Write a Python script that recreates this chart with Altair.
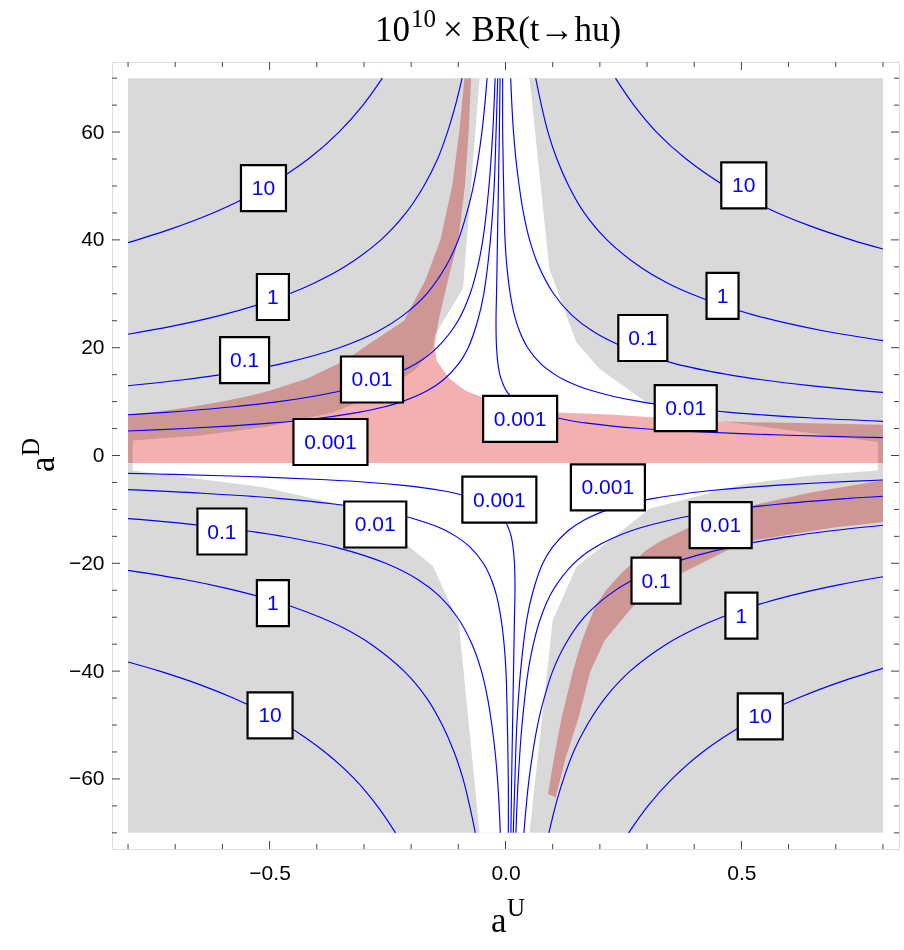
import altair as alt
import pandas as pd

# ---------------------------------------------------------------- layout
W = 787            # plot width  (px)
H = 787            # plot height (px)
X_VIEW = [-0.834, 0.834]
Y_VIEW = [-73.0, 73.0]
X_MIN, X_MAX = -0.8, 0.8
Y_MIN, Y_MAX = -70.0, 70.0

# ---------------------------------------------------------------- contour lines (x = a^U, y = a^D)
UR_0001 = [(0.800, 3.32), (0.708, 3.5), (0.511, 4.0), (0.380, 4.5), (0.288, 5.0), (0.222, 5.5),
           (0.173, 6.0), (0.136, 6.5), (0.107, 7.0), (0.084, 7.5), (0.067, 8.0), (0.041, 9.0),
           (0.023, 10.0), (0.011, 11.0), (0.002, 12.0), (-0.004, 13.0), (-0.012, 15.0),
           (-0.016, 17.0), (-0.019, 20.0), (-0.020, 23.0), (-0.020, 26.0), (-0.019, 30.0),
           (-0.018, 35.0), (-0.017, 40.0), (-0.015, 50.0), (-0.013, 60.0), (-0.0115, 70.0)]
UR_001 = [(0.800, 6.33), (0.642, 7.0), (0.476, 8.0), (0.364, 9.0), (0.285, 10.0), (0.227, 11.0),
          (0.184, 12.0), (0.151, 13.0), (0.125, 14.0), (0.105, 15.0), (0.075, 17.0), (0.047, 20.0),
          (0.030, 23.0), (0.019, 26.0), (0.010, 30.0), (0.003, 35.0), (-0.001, 40.0),
          (-0.004, 50.0), (-0.006, 60.0), (-0.006, 70.0)]
UR_01 = [(0.800, 11.7), (0.758, 12.0), (0.641, 13.0), (0.547, 14.0), (0.472, 15.0), (0.361, 17.0),
         (0.254, 20.0), (0.186, 23.0), (0.141, 26.0), (0.102, 30.0), (0.071, 35.0), (0.051, 40.0),
         (0.038, 45.0), (0.029, 50.0), (0.022, 55.0), (0.017, 60.0), (0.0135, 65.0), (0.011, 70.0)]
UR_1 = [(0.800, 21.3), (0.681, 23.0), (0.598, 24.5), (0.529, 26.0), (0.4535, 28.0), (0.393, 30.0),
        (0.343, 32.0), (0.285, 35.0), (0.215, 40.0), (0.167, 45.0), (0.134, 50.0), (0.109, 55.0),
        (0.090, 60.0), (0.076, 65.0), (0.064, 70.0)]
UR_10 = [(0.800, 38.3), (0.733, 40.0), (0.648, 42.5), (0.577, 45.0), (0.517, 47.5), (0.465, 50.0),
         (0.383, 55.0), (0.320, 60.0), (0.272, 65.0), (0.233, 70.0)]

UL_0001 = [(-0.800, 4.55), (-0.680, 5.0), (-0.578, 5.5), (-0.499, 6.0), (-0.437, 6.5), (-0.387, 7.0),
           (-0.312, 8.0), (-0.258, 9.0), (-0.219, 10.0), (-0.166, 12.0), (-0.132, 14.0),
           (-0.0995, 17.0), (-0.079, 20.0), (-0.059, 25.0), (-0.046, 30.0), (-0.032, 40.0),
           (-0.024, 50.0), (-0.020, 60.0), (-0.0165, 70.0)]
UL_001 = [(-0.800, 7.56), (-0.721, 8.0), (-0.582, 9.0), (-0.481, 10.0), (-0.406, 11.0), (-0.348, 12.0),
          (-0.265, 14.0), (-0.190, 17.0), (-0.145, 20.0), (-0.1005, 25.0), (-0.075, 30.0),
          (-0.059, 35.0), (-0.048, 40.0), (-0.035, 50.0), (-0.027, 60.0), (-0.022, 70.0)]
UL_01 = [(-0.800, 12.93), (-0.687, 14.0), (-0.603, 15.0), (-0.476, 17.0), (-0.352, 20.0), (-0.271, 23.0),
         (-0.217, 26.0), (-0.167, 30.0), (-0.127, 35.0), (-0.100, 40.0), (-0.082, 45.0),
         (-0.068, 50.0), (-0.050, 60.0), (-0.039, 70.0)]
UL_1 = [(-0.800, 22.5), (-0.706, 24.0), (-0.604, 26.0), (-0.5235, 28.0), (-0.458, 30.0), (-0.405, 32.0),
        (-0.341, 35.0), (-0.264, 40.0), (-0.211, 45.0), (-0.173, 50.0), (-0.144, 55.0),
        (-0.123, 60.0), (-0.106, 65.0), (-0.092, 70.0)]
UL_10 = [(-0.800, 39.5), (-0.710, 42.0), (-0.620, 45.0), (-0.558, 47.5), (-0.504, 50.0), (-0.418, 55.0),
         (-0.353, 60.0), (-0.302, 65.0), (-0.261, 70.0)]

LL_0001 = [(-0.800, -3.32), (-0.708, -3.5), (-0.511, -4.0), (-0.380, -4.5), (-0.288, -5.0), (-0.222, -5.5),
           (-0.173, -6.0), (-0.136, -6.5), (-0.107, -7.0), (-0.084, -7.5), (-0.067, -8.0), (-0.041, -9.0),
           (-0.023, -10.0), (-0.011, -11.0), (-0.002, -12.0), (0.004, -13.0), (0.012, -15.0),
           (0.016, -17.0), (0.019, -20.0), (0.020, -23.0), (0.020, -26.0), (0.019, -30.0),
           (0.018, -35.0), (0.017, -40.0), (0.015, -50.0), (0.013, -60.0), (0.0115, -70.0)]
LL_001 = [(-0.800, -6.33), (-0.642, -7.0), (-0.476, -8.0), (-0.364, -9.0), (-0.285, -10.0), (-0.227, -11.0),
          (-0.184, -12.0), (-0.151, -13.0), (-0.125, -14.0), (-0.105, -15.0), (-0.075, -17.0), (-0.047, -20.0),
          (-0.030, -23.0), (-0.019, -26.0), (-0.010, -30.0), (-0.003, -35.0), (0.001, -40.0),
          (0.004, -50.0), (0.006, -60.0), (0.006, -70.0)]
LL_01 = [(-0.800, -11.7), (-0.758, -12.0), (-0.641, -13.0), (-0.547, -14.0), (-0.472, -15.0), (-0.361, -17.0),
         (-0.254, -20.0), (-0.186, -23.0), (-0.141, -26.0), (-0.102, -30.0), (-0.071, -35.0), (-0.051, -40.0),
         (-0.038, -45.0), (-0.029, -50.0), (-0.022, -55.0), (-0.017, -60.0), (-0.0135, -65.0), (-0.011, -70.0)]
LL_1 = [(-0.800, -21.3), (-0.681, -23.0), (-0.598, -24.5), (-0.529, -26.0), (-0.4535, -28.0), (-0.393, -30.0),
        (-0.343, -32.0), (-0.285, -35.0), (-0.215, -40.0), (-0.167, -45.0), (-0.134, -50.0), (-0.109, -55.0),
        (-0.090, -60.0), (-0.076, -65.0), (-0.064, -70.0)]
LL_10 = [(-0.800, -38.3), (-0.733, -40.0), (-0.648, -42.5), (-0.577, -45.0), (-0.517, -47.5), (-0.465, -50.0),
         (-0.383, -55.0), (-0.320, -60.0), (-0.272, -65.0), (-0.233, -70.0)]

LR_0001 = [(0.800, -4.55), (0.680, -5.0), (0.578, -5.5), (0.499, -6.0), (0.437, -6.5), (0.387, -7.0),
           (0.312, -8.0), (0.258, -9.0), (0.219, -10.0), (0.166, -12.0), (0.132, -14.0),
           (0.0995, -17.0), (0.079, -20.0), (0.059, -25.0), (0.046, -30.0), (0.032, -40.0),
           (0.024, -50.0), (0.020, -60.0), (0.0165, -70.0)]
LR_001 = [(0.800, -7.56), (0.721, -8.0), (0.582, -9.0), (0.481, -10.0), (0.406, -11.0), (0.348, -12.0),
          (0.265, -14.0), (0.190, -17.0), (0.145, -20.0), (0.1005, -25.0), (0.075, -30.0),
          (0.059, -35.0), (0.048, -40.0), (0.035, -50.0), (0.027, -60.0), (0.022, -70.0)]
LR_01 = [(0.800, -12.93), (0.687, -14.0), (0.603, -15.0), (0.476, -17.0), (0.352, -20.0), (0.271, -23.0),
         (0.217, -26.0), (0.167, -30.0), (0.127, -35.0), (0.100, -40.0), (0.082, -45.0),
         (0.068, -50.0), (0.050, -60.0), (0.039, -70.0)]
LR_1 = [(0.800, -22.5), (0.706, -24.0), (0.604, -26.0), (0.5235, -28.0), (0.458, -30.0), (0.405, -32.0),
        (0.341, -35.0), (0.264, -40.0), (0.211, -45.0), (0.173, -50.0), (0.144, -55.0),
        (0.123, -60.0), (0.106, -65.0), (0.092, -70.0)]
LR_10 = [(0.800, -39.5), (0.710, -42.0), (0.620, -45.0), (0.558, -47.5), (0.504, -50.0), (0.418, -55.0),
         (0.353, -60.0), (0.302, -65.0), (0.261, -70.0)]

# ---------------------------------------------------------------- contour labels
LABEL_TEXT = ["10", "1", "0.1", "0.01", "0.001",
              "0.001", "0.01", "0.1", "1", "10",
              "0.001", "0.01", "0.1", "1", "10",
              "0.001", "0.01", "0.1", "1", "10"]
LABEL_X = [-0.513, -0.493, -0.553, -0.283, -0.371,
           0.031, 0.382, 0.291, 0.460, 0.505,
           -0.013, -0.276, -0.601, -0.493, -0.499,
           0.217, 0.456, 0.319, 0.500, 0.540]
LABEL_Y = [49.6, 29.4, 17.7, 14.1, 2.5,
           6.8, 8.8, 21.8, 29.6, 50.1,
           -8.2, -12.8, -14.1, -27.4, -48.2,
           -5.9, -12.9, -23.2, -29.7, -48.4]
BOX_W = {"1": 32, "10": 45, "0.1": 49, "0.01": 62, "0.001": 74}
BOX_H = 46

# ---------------------------------------------------------------- shaded regions
# white (allowed) cross: upper and lower outline
WHITE_TOP_X = [-0.79, -0.648, -0.507, -0.366, -0.26, -0.189, -0.154, -0.150, -0.090, -0.055,
               0.051, 0.093, 0.150, 0.199, 0.298, 0.446, 0.789]
WHITE_TOP_Y = [2.8, 3.7, 5.3, 8.0, 11.7, 16.1, 19.8, 22.3, 31.0, 70.0,
               70.0, 34.6, 21.0, 16.1, 9.9, 6.5, 2.5]
WHITE_BOT_X = [-0.79, -0.513, -0.366, -0.298, -0.21, -0.154, -0.099, -0.055,
               0.051, 0.100, 0.150, 0.305, 0.507, 0.648, 0.789]
WHITE_BOT_Y = [-2.8, -5.9, -8.8, -10.2, -16.5, -20.5, -31.0, -70.0,
               -70.0, -30.6, -20.7, -9.9, -5.3, -3.7, -2.8]

# pink band, upper part (left and right edge at each a^D)
PINK_UP_Y = [-1.4, 5.7, 6.3, 7.1, 7.6, 8.0, 8.9, 10.0, 10.8, 12.0, 14.3, 17.6, 20.4,
             25.0, 32.5, 40.0, 50.0, 60.0, 70.0]
PINK_UP_L = [-0.8, -0.8, -0.8, -0.8, -0.8, -0.75, -0.674, -0.60, -0.556, -0.50, -0.42, -0.341, -0.294,
             -0.215, -0.17, -0.138, -0.113, -0.098, -0.087]
PINK_UP_R = [0.8, 0.8, 0.46, 0.31, 0.22, 0.11, 0.05, -0.02, -0.049, -0.085, -0.119, -0.146, -0.150,
             -0.142, -0.122, -0.100, -0.086, -0.078, -0.073]
# pink band, lower right part
PINK_LO_Y = [-63.4, -62.8, -56.0, -48.6, -40.0, -34.3, -28.0, -25.0, -21.9, -17.6, -15.8,
             -13.3, -12.4, -9.3, -6.8, -4.6]
PINK_LO_L = [0.106, 0.09, 0.103, 0.119, 0.143, 0.162, 0.19, 0.213, 0.245, 0.298, 0.33,
             0.39, 0.42, 0.52, 0.65, 0.8]
PINK_LO_R = [0.107, 0.108, 0.128, 0.155, 0.18, 0.21, 0.27, 0.30, 0.372, 0.47, 0.52,
             0.70, 0.8, 0.8, 0.8, 0.8]

# ---------------------------------------------------------------- ticks and axis labels
X_MAJOR = [-0.5, 0.0, 0.5]
X_MINOR = [-0.8, -0.7, -0.6, -0.4, -0.3, -0.2, -0.1, 0.1, 0.2, 0.3, 0.4, 0.6, 0.7, 0.8]
Y_MAJOR = [-60, -40, -20, 0, 20, 40, 60]
Y_MINOR = [-70, -65, -55, -50, -45, -35, -30, -25, -15, -10, -5,
           5, 10, 15, 25, 30, 35, 45, 50, 55, 65, 70]

TITLE_BASE, TITLE_EXP, TITLE_REST = "10", "10", "\u00d7 BR(t\u2192hu)"
XTITLE_BASE, XTITLE_SUP = "a", "U"
YTITLE_BASE, YTITLE_SUP = "a", "D"

GRAY = "#d9d9d9"
PINK = "#f4b0b0"
BLUE = "#0000ff"
TICK = "#444444"
SERIF = "Liberation Serif"
SANS = "Liberation Sans"

xs = alt.Scale(domain=X_VIEW, nice=False, zero=False)
ys = alt.Scale(domain=Y_VIEW, nice=False, zero=False)


def X(field, **kw):
    return alt.X(field, scale=xs, **kw)


def Y(field, **kw):
    return alt.Y(field, scale=ys, **kw)


# ---------------------------------------------------------------- tables
curves = {
    "UR_0001": UR_0001, "UR_001": UR_001, "UR_01": UR_01, "UR_1": UR_1, "UR_10": UR_10,
    "UL_0001": UL_0001, "UL_001": UL_001, "UL_01": UL_01, "UL_1": UL_1, "UL_10": UL_10,
    "LL_0001": LL_0001, "LL_001": LL_001, "LL_01": LL_01, "LL_1": LL_1, "LL_10": LL_10,
    "LR_0001": LR_0001, "LR_001": LR_001, "LR_01": LR_01, "LR_1": LR_1, "LR_10": LR_10,
}
line_rows = []
for name, pts in curves.items():
    for i, (px, py) in enumerate(pts):
        line_rows.append({"curve": name, "i": i, "x": px, "y": py})
lines_df = pd.DataFrame(line_rows)

kx = W / (X_VIEW[1] - X_VIEW[0])
ky = H / (Y_VIEW[1] - Y_VIEW[0])
labels_df = pd.DataFrame({"t": LABEL_TEXT, "x": LABEL_X, "y": LABEL_Y})
labels_df["w"] = labels_df["t"].map(BOX_W)
labels_df["x1"] = labels_df["x"] - labels_df["w"] / 2 / kx
labels_df["x2"] = labels_df["x"] + labels_df["w"] / 2 / kx
labels_df["y1"] = labels_df["y"] - BOX_H / 2 / ky
labels_df["y2"] = labels_df["y"] + BOX_H / 2 / ky

frame_df = pd.DataFrame({"x": [X_MIN], "x2": [X_MAX], "y": [Y_MIN], "y2": [Y_MAX]})
white_top = pd.DataFrame({"x": WHITE_TOP_X, "y": WHITE_TOP_Y, "b": -1.0})
white_bot = pd.DataFrame({"x": WHITE_BOT_X, "y": WHITE_BOT_Y, "b": 1.0})
pink_up = pd.DataFrame({"y": PINK_UP_Y, "l": PINK_UP_L, "r": PINK_UP_R})
pink_lo = pd.DataFrame({"y": PINK_LO_Y, "l": PINK_LO_L, "r": PINK_LO_R})

# ---------------------------------------------------------------- layers
x_axis = alt.Axis(values=X_MAJOR, format=".1f", title=None, ticks=False, tickSize=0, domain=False,
                  grid=False, labelFont=SANS, labelFontSize=21, labelColor="black", labelPadding=13)
y_axis = alt.Axis(values=Y_MAJOR, format="d", title=None, ticks=False, tickSize=0, domain=False,
                  grid=False, labelFont=SANS, labelFontSize=21, labelColor="black", labelPadding=8)

gray = alt.Chart(frame_df).mark_rect(color=GRAY).encode(
    x=X("x:Q", axis=x_axis), x2="x2:Q", y=Y("y:Q", axis=y_axis), y2="y2:Q")

white_a = alt.Chart(white_top).mark_area(color="white", interpolate="linear").encode(
    x=X("x:Q"), y=Y("y:Q"), y2="b:Q")
white_b = alt.Chart(white_bot).mark_area(color="white", interpolate="linear").encode(
    x=X("x:Q"), y=Y("y:Q"), y2="b:Q")

pink_a = alt.Chart(pink_up).mark_area(color=PINK, orient="horizontal", blend="multiply",
                                      interpolate="linear").encode(
    y=Y("y:Q"), x=X("l:Q"), x2="r:Q")
pink_b = alt.Chart(pink_lo).mark_area(color=PINK, orient="horizontal", blend="multiply",
                                      interpolate="linear").encode(
    y=Y("y:Q"), x=X("l:Q"), x2="r:Q")

contours = alt.Chart(lines_df).mark_line(color=BLUE, strokeWidth=1.15, interpolate="catmull-rom").encode(
    x=X("x:Q"), y=Y("y:Q"), detail="curve:N", order="i:Q")

boxes = alt.Chart(labels_df).mark_rect(fill="white", stroke="black", strokeWidth=2.2).encode(
    x=X("x1:Q"), x2="x2:Q", y=Y("y1:Q"), y2="y2:Q")
box_text = alt.Chart(labels_df).mark_text(font=SANS, fontSize=21, color=BLUE, baseline="middle",
                                          align="center", dy=1).encode(
    x=X("x:Q"), y=Y("y:Q"), text="t:N")


def x_ticks(values, length):
    d = pd.DataFrame({"v": values})
    base = alt.Chart(d).mark_rule(color=TICK, strokeWidth=1)
    return [base.encode(x=X("v:Q"), y=alt.value(H), y2=alt.value(H - length)),
            base.encode(x=X("v:Q"), y=alt.value(0), y2=alt.value(length))]


def y_ticks(values, length):
    d = pd.DataFrame({"v": values})
    base = alt.Chart(d).mark_rule(color=TICK, strokeWidth=1)
    return [base.encode(y=Y("v:Q"), x=alt.value(0), x2=alt.value(length)),
            base.encode(y=Y("v:Q"), x=alt.value(W), x2=alt.value(W - length))]


ticks = x_ticks(X_MAJOR, 8) + x_ticks(X_MINOR, 5) + y_ticks(Y_MAJOR, 8) + y_ticks(Y_MINOR, 5)


def text_piece(s, x, y, size, align="left", angle=0):
    return alt.Chart(pd.DataFrame({"s": [s]})).mark_text(
        font=SERIF, fontSize=size, color="black", align=align, baseline="alphabetic", angle=angle
    ).encode(text="s:N", x=alt.value(x), y=alt.value(y))


titles = [
    text_piece(TITLE_BASE, 298, -21, 35, align="right"),
    text_piece(TITLE_EXP, 299, -35, 25),
    text_piece(TITLE_REST, 331, -21, 35),
    text_piece(XTITLE_BASE, 379, 870, 35),
    text_piece(XTITLE_SUP, 395, 854, 25),
    text_piece(YTITLE_BASE, -58, 410, 35, angle=270),
    text_piece(YTITLE_SUP, -73, 394, 25, angle=270),
]

chart = alt.layer(
    gray, white_a, white_b, pink_a, pink_b, contours, boxes, box_text, *ticks, *titles
).properties(
    width=W, height=H,
    padding={"left": 112, "top": 62, "right": 5, "bottom": 101},
    autosize="none",
).configure_view(
    stroke="#808080", strokeWidth=1.2
).configure(background="white")

chart.save("out.html", embed_options={"renderer": "svg", "actions": False})
